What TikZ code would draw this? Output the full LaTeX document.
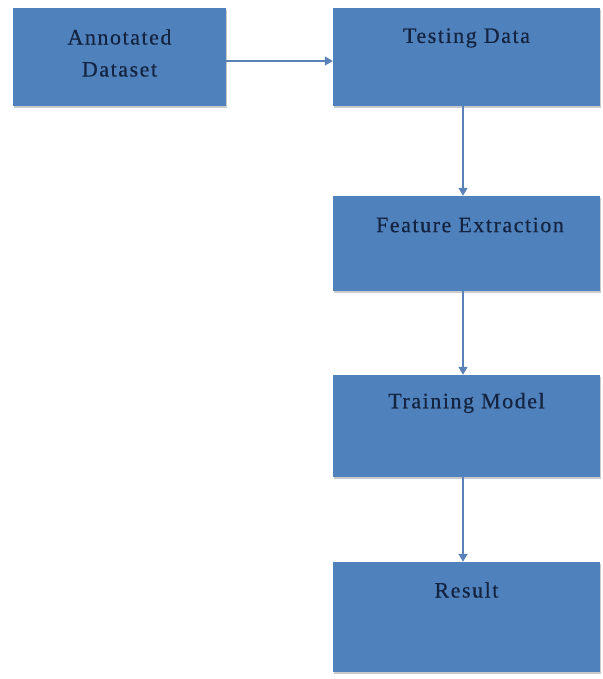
\documentclass[tikz,border=0pt]{standalone}
\usepackage{fontspec}
\setmainfont{Liberation Serif}[LetterSpace=7,FakeBold=0.4]
\usetikzlibrary{arrows.meta,shadows}
\definecolor{boxblue}{HTML}{4F81BD}
\definecolor{txtnavy}{HTML}{14233F}
\definecolor{arrowblue}{HTML}{5A82B8}
\tikzset{
  box/.style={rectangle, fill=boxblue, draw=none, inner sep=0pt,
    drop shadow={shadow xshift=1pt, shadow yshift=-2pt, opacity=0.35, fill=black!60}},
  lbl/.style={text=txtnavy, font=\fontsize{22}{32}\selectfont, align=center, inner sep=0pt},
  conn/.style={draw=arrowblue, line width=1.3pt, -{Triangle[width=9pt,length=8pt]}}
}
\begin{document}
\begin{tikzpicture}[x=1pt,y=-1pt]
\useasboundingbox (0,0) rectangle (602,679);
\node[box, minimum width=213pt, minimum height=98pt] (ann) at (119.5,57) {};
\node[box, minimum width=267pt, minimum height=98pt] (test) at (466.5,57) {};
\node[box, minimum width=267pt, minimum height=95pt] (feat) at (466.5,243.5) {};
\node[box, minimum width=267pt, minimum height=102pt] (train) at (466.5,426) {};
\node[box, minimum width=267pt, minimum height=110pt] (res) at (466.5,617) {};
\node[lbl] (annt) at (119.5,53) {Annotated\\Dataset};
\node[lbl] (testt) at (466.5,38) {Testing Data};
\node[lbl] (featt) at (470,225) {Feature Extraction};
\node[lbl] (traint) at (466.5,403) {Training Model};
\node[lbl] (rest) at (466.5,590) {Result};
\draw[conn] (ann.east |- 0,61) -- (test.west |- 0,61);
\draw[conn] (test.south -| 463,0) -- (feat.north -| 463,0);
\draw[conn] (feat.south -| 463,0) -- (train.north -| 463,0);
\draw[conn] (train.south -| 463,0) -- (res.north -| 463,0);
\end{tikzpicture}
\end{document}
